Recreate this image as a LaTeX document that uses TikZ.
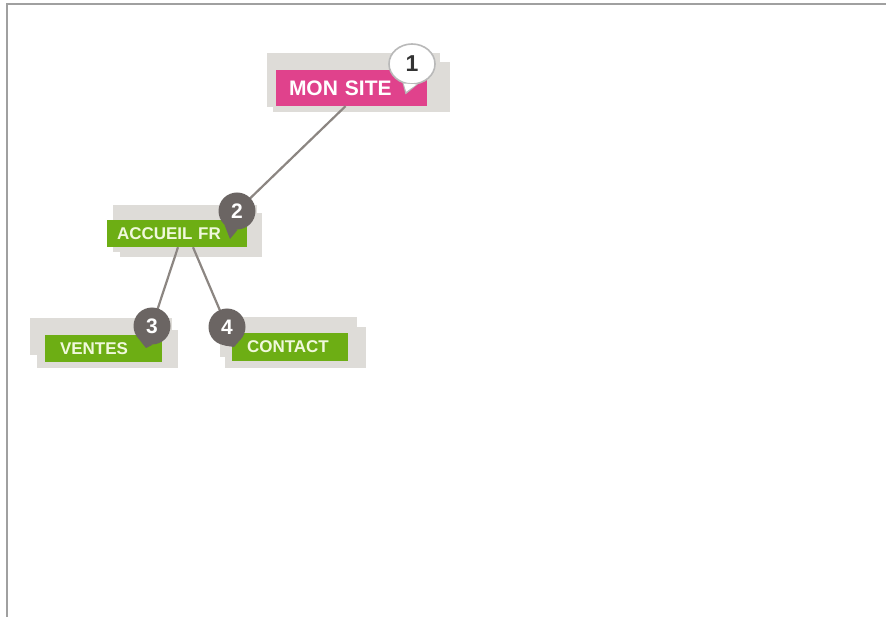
\documentclass[tikz,border=0pt]{standalone}
\usepackage{fontspec}
\setmainfont{Liberation Sans}
\usetikzlibrary{shapes.geometric}
\definecolor{pinkbox}{HTML}{E0428C}
\definecolor{greenbox}{HTML}{6DAE14}
\definecolor{shadecol}{HTML}{DEDCD8}
\definecolor{bubgray}{HTML}{6B6563}
\definecolor{conncol}{HTML}{8C8682}
\definecolor{palegreen}{HTML}{F0F8DC}
\definecolor{framecol}{HTML}{A0A0A0}
\begin{document}
\begin{tikzpicture}[x=1pt,y=-1pt,
  box/.style={inner ysep=0pt, align=left, anchor=center},
  pinkstyle/.style={box, fill=pinkbox, text=white, font=\bfseries\fontsize{21}{21}\selectfont},
  greenstyle/.style={box, fill=greenbox, text=palegreen, font=\bfseries\fontsize{17}{17}\selectfont},
  bubble/.style={circle, fill=bubgray, minimum size=37pt, inner sep=0pt, text=white, font=\bfseries\fontsize{21}{21}\selectfont},
  conn/.style={draw=conncol, line width=2.2pt}]
\useasboundingbox (0,0) rectangle (886,617);
\fill[white] (0,0) rectangle (886,617);
\draw[framecol, line width=1.3pt] (7,617) -- (7,4) -- (886,4);

% shadows
\fill[shadecol] (267,53) rectangle (440,107);
\fill[shadecol] (273,62) rectangle (450,112);
\fill[shadecol] (113,205) rectangle (257,252);
\fill[shadecol] (120,213) rectangle (262,257);
\fill[shadecol] (30,318) rectangle (172,355);
\fill[shadecol] (37,330) rectangle (178,368);
\fill[shadecol] (220,317) rectangle (357,357);
\fill[shadecol] (225,327) rectangle (366,368);

% boxes
\node[pinkstyle, minimum width=151pt, minimum height=36pt, inner xsep=13pt, text width=125pt] (ms) at (351.5,88) {MON SITE};
\node[greenstyle, minimum width=140pt, minimum height=27pt, inner xsep=10pt, text width=120pt] (ac) at (177,233.5) {ACCUEIL FR};
\node[greenstyle, minimum width=117pt, minimum height=27pt, inner xsep=15pt, text width=87pt] (ve) at (103.5,348.5) {VENTES};
\node[greenstyle, minimum width=116pt, minimum height=28pt, inner xsep=15pt, text width=86pt] (co) at (290,347) {CONTACT};

% bubble positions
\coordinate (p1) at (412,64);
\coordinate (p2) at (237,211);
\coordinate (p3) at (152,326);
\coordinate (p4) at (227,327);

% connectors
\draw[conn] ([xshift=-6pt]ms.south) -- (p2);
\draw[conn] ([xshift=1pt]ac.south) -- (p3);
\draw[conn] ([xshift=16pt]ac.south) -- (p4);

% bubbles
\coordinate (t1) at (406,93);
\coordinate (t2) at (230,239);
\coordinate (t3) at (146,348);
\coordinate (t4) at (234,347);

\node[ellipse, minimum width=46pt, minimum height=40pt, inner sep=0pt] (b1g) at (p1) {};
\filldraw[fill=white, draw=gray!55, line width=1.6pt] (b1g.245) -- (t1) -- (b1g.285) -- cycle;
\node[ellipse, minimum width=46pt, minimum height=40pt, inner sep=0pt, fill=white, draw=gray!55, line width=1.6pt, text=black!80, font=\bfseries\fontsize{23}{23}\selectfont] (b1) at (p1) {1};
\fill[white] (b1.247) -- ([shift={(0.2,-1.4)}]t1) -- (b1.283) -- cycle;

\node[bubble] (b2) at (p2) {2};
\fill[bubgray] (b2.228) -- (t2) -- (b2.272) -- cycle;
\node[bubble] (b3) at (p3) {3};
\fill[bubgray] (b3.228) -- (t3) -- (b3.272) -- cycle;
\node[bubble] (b4) at (p4) {4};
\fill[bubgray] (b4.262) -- (t4) -- (b4.310) -- cycle;
\end{tikzpicture}
\end{document}
